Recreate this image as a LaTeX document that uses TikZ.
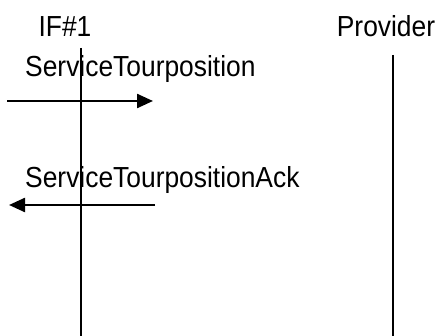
\documentclass[tikz,border=0pt]{standalone}
\usepackage{fontspec}
\setmainfont[FakeStretch=0.91]{Liberation Sans}
\usetikzlibrary{positioning, calc, arrows.meta}

\begin{document}
\begin{tikzpicture}[x=1pt, y=-1pt,
    lifeline/.style={draw, line width=2.4pt},
    msg/.style={draw, line width=2.4pt, -{Triangle[length=16pt, width=14pt]}},
    lbl/.style={inner sep=0pt, anchor=base west, font=\fontsize{29}{34}\selectfont}]
    \useasboundingbox (0,0) rectangle (438,336);
    % heads
    \node[lbl, anchor=base] (if1) at (65,37) {IF\#1};
    \node[lbl, anchor=base] (prov) at (386,37) {Provider};
    % lifelines
    \coordinate (if1top) at (81,48);
    \coordinate (if1bot) at (81,336);
    \coordinate (provtop) at (393,55);
    \coordinate (provbot) at (393,336);
    \draw[lifeline] (if1top) -- (if1bot);
    \draw[lifeline] (provtop) -- (provbot);
    % messages
    \node[lbl] (m1) at (25,77) {ServiceTourposition};
    \coordinate (m1a) at (7,101);
    \coordinate (m1b) at (153,101);
    \draw[msg] (m1a) -- (m1b);
    \node[lbl] (m2) at (25,188) {ServiceTourpositionAck};
    \coordinate (m2a) at (155,205);
    \coordinate (m2b) at (9,205);
    \draw[msg] (m2a) -- (m2b);
\end{tikzpicture}
\end{document}
